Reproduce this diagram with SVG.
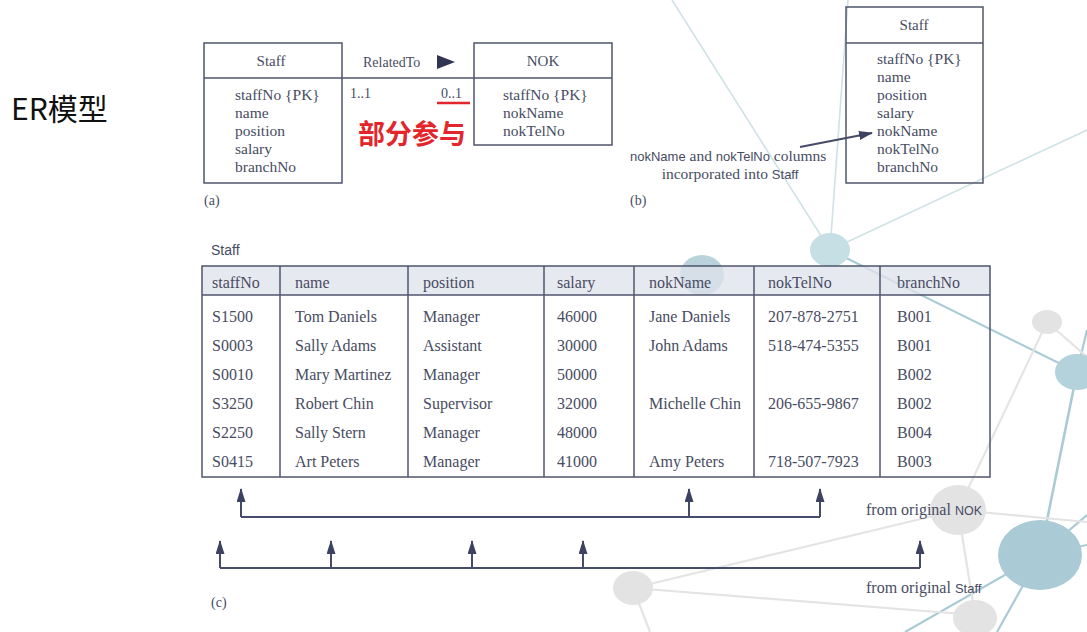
<svg xmlns="http://www.w3.org/2000/svg" width="1087" height="632" viewBox="0 0 1087 632">
  <defs>
    <style>
      .bg-blue-line { stroke: #a9cbd5; stroke-width: 2.2; fill: none; }
      .bg-faint-line { stroke: #cfe2e6; stroke-width: 1.6; fill: none; }
      .bg-gray-line { stroke: #e4e4e4; stroke-width: 2.2; fill: none; }
      .bg-gray-node { fill: #e3e3e3; }
      .box { fill: none; stroke: #4f556c; stroke-width: 1.5; }
      .grid { stroke: #4f556c; stroke-width: 1.5; fill: none; }
      .hdr { fill: #dfe2ec; fill-opacity: 0.75; }
      .t { font-family: "Liberation Serif", serif; fill: #474c62; }
      .s { font-family: "Liberation Sans", sans-serif; fill: #474c62; }
      .box-title { font-size: 15px; text-anchor: middle; }
      .attr { font-size: 15.5px; }
      .cell { font-size: 16px; }
      .cap { font-size: 14px; }
      .conn { stroke: #454b68; stroke-width: 2; fill: none; }
    </style>
    <marker id="ah" markerWidth="14" markerHeight="9" refX="13" refY="4.5" orient="auto" markerUnits="userSpaceOnUse">
      <path d="M0,0 L14,4.5 L0,9 z" fill="#3c4260"/>
    </marker>
  </defs>

  <rect width="1087" height="632" fill="#ffffff"/>

  <!-- decorative network in the background -->
  <g id="network">
    <line class="bg-faint-line" x1="672" y1="0" x2="830" y2="250"/>
    <line class="bg-faint-line" x1="848" y1="0" x2="830" y2="250"/>
    <line class="bg-faint-line" x1="830" y1="250" x2="1087" y2="130"/>
    <line class="bg-blue-line" x1="830" y1="250" x2="1077" y2="372"/>
    <line class="bg-blue-line" x1="1077" y1="372" x2="1087" y2="330"/>
    <line class="bg-blue-line" x1="1077" y1="372" x2="1040" y2="555" style="stroke-width:2.6"/>
    <line class="bg-blue-line" x1="1040" y1="555" x2="905" y2="632"/>
    <line class="bg-blue-line" x1="1040" y1="555" x2="997" y2="632"/>
    <line class="bg-blue-line" x1="1040" y1="555" x2="1087" y2="545"/>
    <line class="bg-blue-line" x1="1040" y1="555" x2="1087" y2="515"/>
    <line class="bg-gray-line" x1="1047" y1="322" x2="958" y2="510"/>
    <line class="bg-gray-line" x1="1047" y1="322" x2="1087" y2="357"/>
    <line class="bg-gray-line" x1="958" y1="510" x2="1087" y2="522"/>
    <line class="bg-gray-line" x1="958" y1="510" x2="975" y2="615"/>
    <line class="bg-gray-line" x1="958" y1="510" x2="633" y2="588"/>
    <line class="bg-gray-line" x1="633" y1="588" x2="975" y2="615"/>
    <line class="bg-gray-line" x1="633" y1="588" x2="650" y2="632"/>
    <ellipse cx="830" cy="250" rx="20" ry="17" fill="#c6dfe5"/>
    <ellipse cx="702" cy="275" rx="22" ry="20" fill="#9dbfcd" fill-opacity="0.7"/>
    <ellipse cx="1047" cy="322" rx="15" ry="12" class="bg-gray-node"/>
    <ellipse cx="1077" cy="372" rx="22" ry="18" fill="#b3d2db"/>
    <ellipse cx="958" cy="510" rx="28" ry="25" class="bg-gray-node"/>
    <ellipse cx="1040" cy="555" rx="42" ry="35" fill="#aacbd6"/>
    <ellipse cx="633" cy="588" rx="20" ry="17" class="bg-gray-node"/>
    <ellipse cx="975" cy="618" rx="22" ry="18" class="bg-gray-node"/>
  </g>

  <!-- page title -->
  <text x="11" y="120" font-family="'Noto Sans CJK SC', sans-serif" font-size="30" fill="#111111">ER模型</text>

  <!-- (a) entity Staff -->
  <g id="staff-a">
    <rect class="box" x="204" y="43" width="138" height="140"/>
    <line class="grid" x1="204" y1="78" x2="342" y2="78"/>
    <text class="t box-title" x="271" y="66">Staff</text>
    <text class="t attr" x="235" y="100">staffNo {PK}</text>
    <text class="t attr" x="235" y="118">name</text>
    <text class="t attr" x="235" y="136">position</text>
    <text class="t attr" x="235" y="154">salary</text>
    <text class="t attr" x="235" y="172">branchNo</text>
  </g>

  <!-- (a) entity NOK -->
  <g id="nok-a">
    <rect class="box" x="474" y="43" width="138" height="102"/>
    <line class="grid" x1="474" y1="78" x2="612" y2="78"/>
    <text class="t box-title" x="543" y="66">NOK</text>
    <text class="t attr" x="503" y="100">staffNo {PK}</text>
    <text class="t attr" x="503" y="118">nokName</text>
    <text class="t attr" x="503" y="136">nokTelNo</text>
  </g>

  <!-- (b) entity Staff with merged columns -->
  <g id="staff-b">
    <rect class="box" x="846" y="7" width="137" height="176"/>
    <line class="grid" x1="846" y1="43" x2="983" y2="43"/>
    <text class="t box-title" x="914" y="30">Staff</text>
    <text class="t attr" x="877" y="64">staffNo {PK}</text>
    <text class="t attr" x="877" y="82">name</text>
    <text class="t attr" x="877" y="100">position</text>
    <text class="t attr" x="877" y="118">salary</text>
    <text class="t attr" x="877" y="136">nokName</text>
    <text class="t attr" x="877" y="154">nokTelNo</text>
    <text class="t attr" x="877" y="172">branchNo</text>
  </g>

  <!-- (c) Staff relation -->
  <g id="staff-table">
    <text class="s" x="211" y="255" font-size="14">Staff</text>
    <rect class="hdr" x="202" y="266" width="788" height="29"/>
    <rect class="grid" x="202" y="266" width="788" height="211"/>
    <line class="grid" x1="202" y1="295" x2="990" y2="295"/>
    <line class="grid" x1="280" y1="266" x2="280" y2="477"/>
    <line class="grid" x1="408" y1="266" x2="408" y2="477"/>
    <line class="grid" x1="544" y1="266" x2="544" y2="477"/>
    <line class="grid" x1="634" y1="266" x2="634" y2="477"/>
    <line class="grid" x1="754" y1="266" x2="754" y2="477"/>
    <line class="grid" x1="880" y1="266" x2="880" y2="477"/>
    <g class="t cell">
      <text x="212" y="288">staffNo</text>
      <text x="295" y="288">name</text>
      <text x="423" y="288">position</text>
      <text x="557" y="288">salary</text>
      <text x="649" y="288">nokName</text>
      <text x="768" y="288">nokTelNo</text>
      <text x="897" y="288">branchNo</text>

      <text x="212" y="322">S1500</text>
      <text x="295" y="322">Tom Daniels</text>
      <text x="423" y="322">Manager</text>
      <text x="557" y="322">46000</text>
      <text x="649" y="322">Jane Daniels</text>
      <text x="768" y="322">207-878-2751</text>
      <text x="897" y="322">B001</text>

      <text x="212" y="351">S0003</text>
      <text x="295" y="351">Sally Adams</text>
      <text x="423" y="351">Assistant</text>
      <text x="557" y="351">30000</text>
      <text x="649" y="351">John Adams</text>
      <text x="768" y="351">518-474-5355</text>
      <text x="897" y="351">B001</text>

      <text x="212" y="380">S0010</text>
      <text x="295" y="380">Mary Martinez</text>
      <text x="423" y="380">Manager</text>
      <text x="557" y="380">50000</text>
      <text x="897" y="380">B002</text>

      <text x="212" y="409">S3250</text>
      <text x="295" y="409">Robert Chin</text>
      <text x="423" y="409">Supervisor</text>
      <text x="557" y="409">32000</text>
      <text x="649" y="409">Michelle Chin</text>
      <text x="768" y="409">206-655-9867</text>
      <text x="897" y="409">B002</text>

      <text x="212" y="438">S2250</text>
      <text x="295" y="438">Sally Stern</text>
      <text x="423" y="438">Manager</text>
      <text x="557" y="438">48000</text>
      <text x="897" y="438">B004</text>

      <text x="212" y="467">S0415</text>
      <text x="295" y="467">Art Peters</text>
      <text x="423" y="467">Manager</text>
      <text x="557" y="467">41000</text>
      <text x="649" y="467">Amy Peters</text>
      <text x="768" y="467">718-507-7923</text>
      <text x="897" y="467">B003</text>
    </g>
  </g>

  <!-- connectors -->
  <g id="connectors">
    <!-- RelatedTo relationship -->
    <line class="grid" x1="342" y1="78" x2="474" y2="78"/>
    <text class="t cap" x="363" y="67">RelatedTo</text>
    <path d="M437,55 L455,62 L437,69 z" fill="#2f3552"/>
    <text class="t cap" x="350" y="98">1..1</text>
    <text class="t cap" x="441" y="98">0..1</text>
    <line x1="437" y1="103" x2="470" y2="103" stroke="#e3262b" stroke-width="2.6"/>
    <text x="412" y="144" text-anchor="middle" font-family="'Noto Sans CJK SC', sans-serif" font-size="27" font-weight="bold" fill="#e3262b">部分参与</text>

    <!-- pointer to merged columns -->
    <line class="conn" x1="800" y1="147" x2="872" y2="133" marker-end="url(#ah)"/>

    <!-- columns from original NOK -->
    <path class="conn" d="M241,517 H820"/>
    <line class="conn" x1="241" y1="517" x2="241" y2="489" marker-end="url(#ah)"/>
    <line class="conn" x1="689" y1="517" x2="689" y2="489" marker-end="url(#ah)"/>
    <line class="conn" x1="820" y1="517" x2="820" y2="489" marker-end="url(#ah)"/>

    <!-- columns from original Staff -->
    <path class="conn" d="M220,568 H920"/>
    <line class="conn" x1="220" y1="568" x2="220" y2="541" marker-end="url(#ah)"/>
    <line class="conn" x1="331" y1="568" x2="331" y2="541" marker-end="url(#ah)"/>
    <line class="conn" x1="472" y1="568" x2="472" y2="541" marker-end="url(#ah)"/>
    <line class="conn" x1="583" y1="568" x2="583" y2="541" marker-end="url(#ah)"/>
    <line class="conn" x1="920" y1="568" x2="920" y2="541" marker-end="url(#ah)"/>
  </g>

  <!-- captions -->
  <g id="captions">
    <text class="t cap" x="204" y="205">(a)</text>
    <text class="t" x="630" y="161" font-size="15.5"><tspan class="s" font-size="13">nokName</tspan> and <tspan class="s" font-size="13">nokTelNo</tspan> columns</text>
    <text class="t" x="730" y="179" font-size="15.5" text-anchor="middle">incorporated into <tspan class="s" font-size="13">Staff</tspan></text>
    <text class="t cap" x="630" y="205">(b)</text>
    <text class="t" x="866" y="515" font-size="16">from original <tspan class="s" font-size="12.5">NOK</tspan></text>
    <text class="t" x="866" y="593" font-size="16">from original <tspan class="s" font-size="13">Staff</tspan></text>
    <text class="t cap" x="211" y="607">(c)</text>
  </g>
</svg>
